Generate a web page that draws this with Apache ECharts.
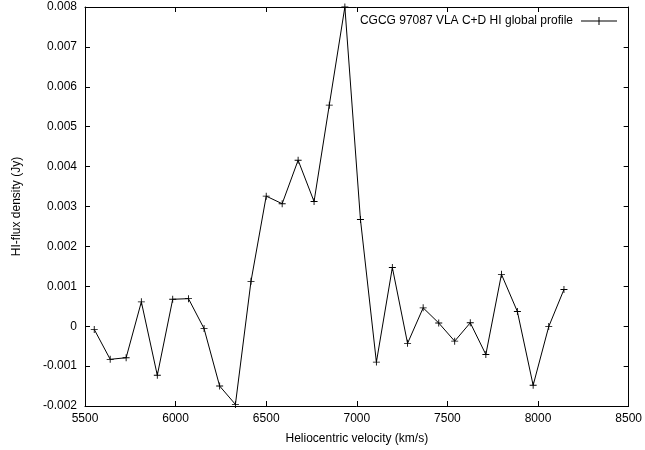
<!DOCTYPE html>
<html>
<head>
<meta charset="utf-8">
<script src="https://cdn.jsdelivr.net/npm/echarts@6/dist/echarts.min.js"></script>
<style>
html,body{margin:0;padding:0;background:#fff;}
#chart{width:645px;height:450px;}
</style>
</head>
<body>
<div id="chart"></div>
<script>
const velocity = [5551,5639,5727,5811,5899,5984,6071,6157,6243,6330,6416,6500,6588,6676,6764,6848,6934,7020,7108,7196,7280,7366,7452,7540,7626,7712,7798,7886,7973,8059,8143];
const flux = [-0.00008,-0.00083,-0.00079,0.00061,-0.00123,0.000675,0.00069,-0.00006,-0.0015,-0.00196,0.001125,0.00326,0.00307,0.00416,0.003125,0.00554,0.008,0.002675,-0.0009,0.00147,-0.00043,0.00046,0.00008,-0.000375,0.000085,-0.00071,0.0013,0.000367,-0.00148,-0.00001,0.00092];
const seriesName = 'CGCG 97087 VLA C+D HI global profile';
const xTitle = 'Heliocentric velocity (km/s)';
const yTitle = 'HI-flux density (Jy)';

const FONT = '"Liberation Sans", Arial, Helvetica, sans-serif';
const plus = 'path://M-0.5,-4L0.5,-4L0.5,-0.5L4,-0.5L4,0.5L0.5,0.5L0.5,4L-0.5,4L-0.5,0.5L-4,0.5L-4,-0.5L-0.5,-0.5Z';
const legendIcon = 'path://M-18,-0.5L-0.5,-0.5L-0.5,-4L0.5,-4L0.5,-0.5L18,-0.5L18,0.5L0.5,0.5L0.5,4L-0.5,4L-0.5,0.5L-18,0.5Z';

const chart = echarts.init(document.getElementById('chart'), null, {renderer:'canvas'});
const axisCommon = {
  axisLine:{show:true, onZero:false, lineStyle:{color:'#000', width:1}},
  axisTick:{show:true, inside:true, length:5, lineStyle:{color:'#000', width:1}},
  splitLine:{show:false}
};
chart.setOption({
  animation:false,
  backgroundColor:'#fff',
  textStyle:{fontFamily:FONT},
  grid:{left:85, top:7, width:546, height:400, containLabel:false},
  legend:{
    show:true, right:28, top:15, align:'right', padding:0,
    itemWidth:36, itemHeight:8, itemGap:8,
    textStyle:{fontFamily:FONT, fontSize:12, color:'#000', padding:[0,3,0,0]},
    data:[{name:seriesName, icon:legendIcon, itemStyle:{color:'#000'}}]
  },
  xAxis:[
    Object.assign({
      type:'value', min:5500, max:8500, interval:500, position:'bottom',
      name:xTitle, nameLocation:'middle', nameGap:27,
      nameTextStyle:{fontFamily:FONT, fontSize:12, color:'#000'},
      axisLabel:{show:true, margin:7, color:'#000', fontSize:12, fontFamily:FONT,
        formatter:function(v){ return String(Math.round(v)); }}
    }, axisCommon),
    Object.assign({
      type:'value', min:5500, max:8500, interval:500, position:'top',
      axisLabel:{show:false}
    }, axisCommon)
  ],
  yAxis:[
    Object.assign({
      type:'value', min:-0.002, max:0.008, interval:0.001, position:'left',
      name:yTitle, nameLocation:'middle', nameGap:62, nameRotate:90,
      nameTextStyle:{fontFamily:FONT, fontSize:12, color:'#000'},
      axisLabel:{show:true, margin:8, color:'#000', fontSize:12, fontFamily:FONT,
        formatter:function(v){ const r=Math.round(v*1000)/1000; return Math.abs(r)<1e-9 ? '0' : r.toFixed(3); }}
    }, axisCommon),
    Object.assign({
      type:'value', min:-0.002, max:0.008, interval:0.001, position:'right',
      axisLabel:{show:false}
    }, axisCommon)
  ],
  series:[{
    name:seriesName,
    type:'line',
    xAxisIndex:0, yAxisIndex:0,
    data:velocity.map((v,i)=>[v, flux[i]]),
    symbol:plus, symbolSize:7, showSymbol:true,
    lineStyle:{color:'#000', width:1},
    itemStyle:{color:'#000'},
    clip:false
  }]
});
</script>
</body>
</html>
